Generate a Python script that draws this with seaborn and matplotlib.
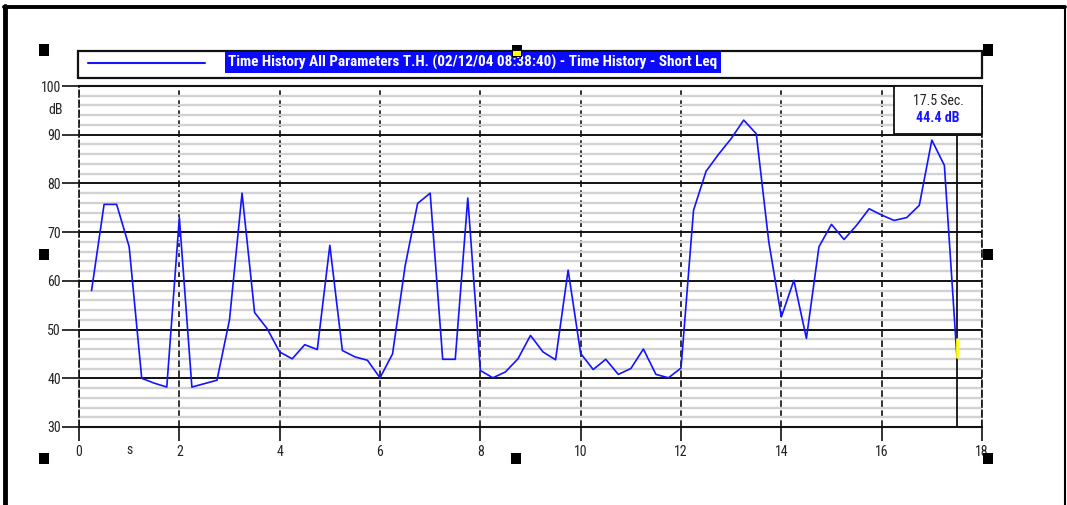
import numpy as np
import pandas as pd
import matplotlib
matplotlib.use("Agg")
import matplotlib.pyplot as plt
import seaborn as sns
from matplotlib import font_manager
from matplotlib.patches import Rectangle
from matplotlib.lines import Line2D
from matplotlib.transforms import blended_transform_factory

# ---------------- data ----------------
time_s = [0.25, 0.5, 0.75, 1.0, 1.25, 1.5, 1.75, 2.0, 2.25, 2.5, 2.75, 3.0,
          3.25, 3.5, 3.75, 4.0, 4.25, 4.5, 4.75, 5.0, 5.25, 5.5, 5.75, 6.0,
          6.25, 6.5, 6.75, 7.0, 7.25, 7.5, 7.75, 8.0, 8.25, 8.5, 8.75, 9.0,
          9.25, 9.5, 9.75, 10.0, 10.25, 10.5, 10.75, 11.0, 11.25, 11.5, 11.75, 12.0,
          12.25, 12.5, 12.75, 13.0, 13.25, 13.5, 13.75, 14.0, 14.25, 14.5, 14.75, 15.0,
          15.25, 15.5, 15.75, 16.0, 16.25, 16.5, 16.75, 17.0, 17.25, 17.5]
leq_db = [58.0, 75.7, 75.7, 67.0, 40.0, 39.0, 38.2, 73.0, 38.2, 38.9, 39.6, 52.0,
          78.0, 53.5, 50.2, 45.4, 44.0, 46.9, 45.9, 67.3, 45.7, 44.4, 43.7, 40.1,
          45.0, 63.0, 75.9, 78.0, 43.9, 43.9, 77.0, 41.6, 40.1, 41.3, 44.0, 48.8,
          45.4, 43.8, 62.2, 45.1, 41.8, 43.9, 40.8, 42.0, 46.0, 40.8, 40.1, 42.1,
          74.5, 82.5, 86.0, 89.2, 93.0, 90.2, 68.0, 52.6, 60.1, 48.2, 67.0, 71.6,
          68.5, 71.4, 74.8, 73.5, 72.4, 73.0, 75.5, 88.9, 83.7, 44.4]
x_ticks = [0, 2, 4, 6, 8, 10, 12, 14, 16, 18]
y_ticks = [30, 40, 50, 60, 70, 80, 90, 100]
y_minor = [32, 34, 36, 38, 42, 44, 46, 48, 52, 54, 56, 58, 62, 64, 66, 68,
           72, 74, 76, 78, 82, 84, 86, 88, 92, 94, 96, 98]
series_label = "Time History All Parameters T.H. (02/12/04 08:38:40) - Time History - Short Leq"
x_unit = "s"
y_unit = "dB"

df = pd.DataFrame({"t": time_s, "leq": leq_db})

# ---------------- style ----------------
sns.set_style("white")
avail = {f.name for f in font_manager.fontManager.ttflist}
narrow = next((f for f in ["Liberation Sans Narrow", "Arial Narrow", "Roboto Condensed",
                           "Liberation Sans"] if f in avail), "DejaVu Sans")
plt.rcParams["font.family"] = [narrow, "DejaVu Sans"]

W, H = 1067, 505
fig = plt.figure(figsize=(W / 100, H / 100), dpi=100)
fig.patch.set_facecolor("white")

def fx(px):
    return px / W

def fy(py):
    return 1 - py / H

ax_l, ax_r, ax_t, ax_b = 79, 982, 86, 427
ax = fig.add_axes([fx(ax_l), fy(ax_b), fx(ax_r) - fx(ax_l), fy(ax_t) - fy(ax_b)])

blue = "#1414ff"
sns.lineplot(data=df, x="t", y="leq", ax=ax, color=blue, lw=1.2, zorder=5)

ax.set_xlim(0, 18)
ax.set_ylim(30, 100)
ax.set_xticks(x_ticks)
ax.set_yticks(y_ticks)
ax.set_yticks(y_minor, minor=True)
ax.set_xlabel("")
ax.set_ylabel("")

ax.set_axisbelow(True)
ax.grid(which="minor", axis="y", color="#d2d2d2", lw=1.7, zorder=0)
ax.grid(which="major", axis="y", color="#111111", lw=1.4, zorder=1)
ax.grid(which="major", axis="x", color="#111111", lw=1.2, ls=(0, (4, 2)), zorder=1)

for s in ["top", "bottom"]:
    ax.spines[s].set_color("#111111")
    ax.spines[s].set_linewidth(1.5)
for s in ["left", "right"]:
    ax.spines[s].set_color("#111111")
    ax.spines[s].set_linewidth(1.2)
    ax.spines[s].set_linestyle((0, (4, 2)))

ax.tick_params(axis="y", which="major", direction="out", length=12, width=1.3,
               left=True, labelsize=10, pad=1, colors="#222222")
ax.tick_params(axis="y", which="minor", length=0)
ax.tick_params(axis="x", which="major", direction="out", length=10, width=1.3,
               bottom=True, labelsize=10, pad=3, colors="#222222")

# unit labels
ax.text(-0.0177, 95.0, y_unit, transform=blended_transform_factory(ax.transAxes, ax.transData),
        ha="right", va="center", fontsize=10, color="#222222")
ax.text(1.0, -0.066, x_unit, transform=blended_transform_factory(ax.transData, ax.transAxes),
        ha="center", va="center", fontsize=10, color="#222222")

# cursor
cur_t, cur_v = time_s[-1], leq_db[-1]
ax.axvline(cur_t, color="#111111", lw=1.3, zorder=3)
ax.plot([cur_t, cur_t], [cur_v, cur_v + 3.6], color="#ffff00", lw=2, zorder=6)

# cursor info box
box_l, box_t, box_r, box_b = 894, 86, 982, 134
fig.add_artist(Rectangle((fx(box_l), fy(box_b)), fx(box_r) - fx(box_l), fy(box_t) - fy(box_b),
                         transform=fig.transFigure, facecolor="white", edgecolor="#111111",
                         lw=1.3, zorder=10))
fig.text(fx(938), fy(101), f"{cur_t:.1f} Sec.", ha="center", va="center", fontsize=10,
         color="#222222", zorder=11)
fig.text(fx(938), fy(118), f"{cur_v:.1f} dB", ha="center", va="center", fontsize=10,
         color=blue, fontweight="bold", zorder=11)

# legend box
fig.add_artist(Rectangle((fx(78), fy(78)), fx(982) - fx(78), fy(51) - fy(78),
                         transform=fig.transFigure, facecolor="white", edgecolor="#111111",
                         lw=1.6, zorder=10))
fig.add_artist(Line2D([fx(88), fx(205)], [fy(63.3), fy(63.3)], transform=fig.transFigure,
                      color=blue, lw=1.5, zorder=11))
fig.text(fx(228), fy(62.5), series_label, ha="left", va="center", fontsize=10.9,
         color="white", fontweight="bold", zorder=11,
         bbox=dict(facecolor="#0a0aff", edgecolor="none", pad=2.5))

# selection handles
for (hx, hy) in [(44, 50), (988, 50), (44, 254), (988, 254), (44, 458), (516, 458), (988, 458)]:
    fig.add_artist(Rectangle((fx(hx - 5), fy(hy + 5.5)), fx(10), 11 / H, transform=fig.transFigure,
                             facecolor="black", edgecolor="none", zorder=12))
fig.add_artist(Rectangle((fx(512), fy(57)), fx(10), 12 / H, transform=fig.transFigure,
                         facecolor="black", edgecolor="none", zorder=12))
fig.add_artist(Rectangle((fx(513), fy(56)), fx(8), 5 / H, transform=fig.transFigure,
                         facecolor="#ffff00", edgecolor="none", zorder=13))

# outer frame
fig.add_artist(Line2D([fx(5), fx(5)], [fy(6), 0], transform=fig.transFigure, color="black", lw=3.5))
fig.add_artist(Line2D([fx(4), fx(1065)], [fy(7), fy(7)], transform=fig.transFigure, color="black", lw=2.8))
fig.add_artist(Line2D([fx(1065), fx(1065)], [fy(7), 0], transform=fig.transFigure, color="black", lw=1.5))

fig.savefig("out.png", dpi=100, facecolor="white")
